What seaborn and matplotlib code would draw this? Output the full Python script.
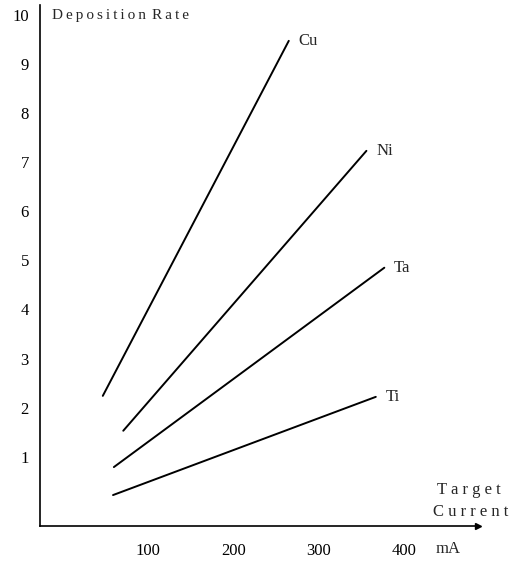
import numpy as np
import pandas as pd
import matplotlib
matplotlib.use("Agg")
import matplotlib.pyplot as plt
import seaborn as sns

# Data
metals = ["Cu", "Ni", "Ta", "Ti"]
cu_current = [47, 265]
cu_rate = [2.24, 9.47]
ni_current = [71, 356]
ni_rate = [1.53, 7.23]
ta_current = [60, 377]
ta_rate = [0.79, 4.85]
ti_current = [59, 367]
ti_rate = [0.22, 2.22]
x_ticks = [100, 200, 300, 400]
y_ticks = [1, 2, 3, 4, 5, 6, 7, 8, 9, 10]

currents = [cu_current, ni_current, ta_current, ti_current]
rates = [cu_rate, ni_rate, ta_rate, ti_rate]
rows = []
for m, xs, ys in zip(metals, currents, rates):
    for x, y in zip(xs, ys):
        rows.append({"metal": m, "current": x, "rate": y})
df = pd.DataFrame(rows)

sns.set_style("white")
plt.rcParams["font.family"] = ["Liberation Serif", "DejaVu Serif"]

W, H = 521, 562
fig = plt.figure(figsize=(W / 100, H / 100), dpi=100)
ax = fig.add_axes([40 / W, 36 / H, 438 / W, 521 / H])

sns.lineplot(data=df, x="current", y="rate", units="metal", estimator=None,
             color="black", linewidth=1.4, ax=ax, sort=False)

ax.set_xlim(-26.6, 486.8)
ax.set_ylim(-0.41, 10.2)

for sp in ["top", "right"]:
    ax.spines[sp].set_visible(False)
for sp in ["left", "bottom"]:
    ax.spines[sp].set_linewidth(1.2)
    ax.spines[sp].set_color("black")

ax.set_xticks(x_ticks)
ax.set_xticklabels([str(v) for v in x_ticks])
ax.set_yticks(y_ticks)
ax.set_yticklabels([str(v) for v in y_ticks])
ax.tick_params(axis="x", direction="in", length=4, width=1, pad=12, labelsize=12, colors="black")
ax.tick_params(axis="y", direction="in", length=4, width=1, pad=8, labelsize=12, colors="black")
ax.set_xlabel("")
ax.set_ylabel("")

# arrow at the end of x axis
ax.plot(1, 0, marker=">", color="black", markersize=5, transform=ax.transAxes, clip_on=False)

# labels at line ends
for m, xs, ys in zip(metals, currents, rates):
    ax.annotate(m, xy=(xs[-1], ys[-1]), xytext=(7, 0), textcoords="offset points",
                ha="left", va="center", fontsize=12)

title = "\u2009".join("Deposition") + "\u2009\u2009" + "\u2009".join("Rate")
ax.text(52 / W, (562 - 16) / H, title, transform=fig.transFigure,
        ha="left", va="center", fontsize=11)
ax.text(469 / W, (562 - 490) / H, "T a r g e t", transform=fig.transFigure, ha="center", va="center",
        fontsize=12)
ax.text(471 / W, (562 - 512) / H, "C u r r e n t", transform=fig.transFigure, ha="center", va="center",
        fontsize=12)
ax.text(448 / W, (562 - 549) / H, "mA", transform=fig.transFigure, ha="center", va="center",
        fontsize=12)

fig.savefig("out.png", dpi=100)
